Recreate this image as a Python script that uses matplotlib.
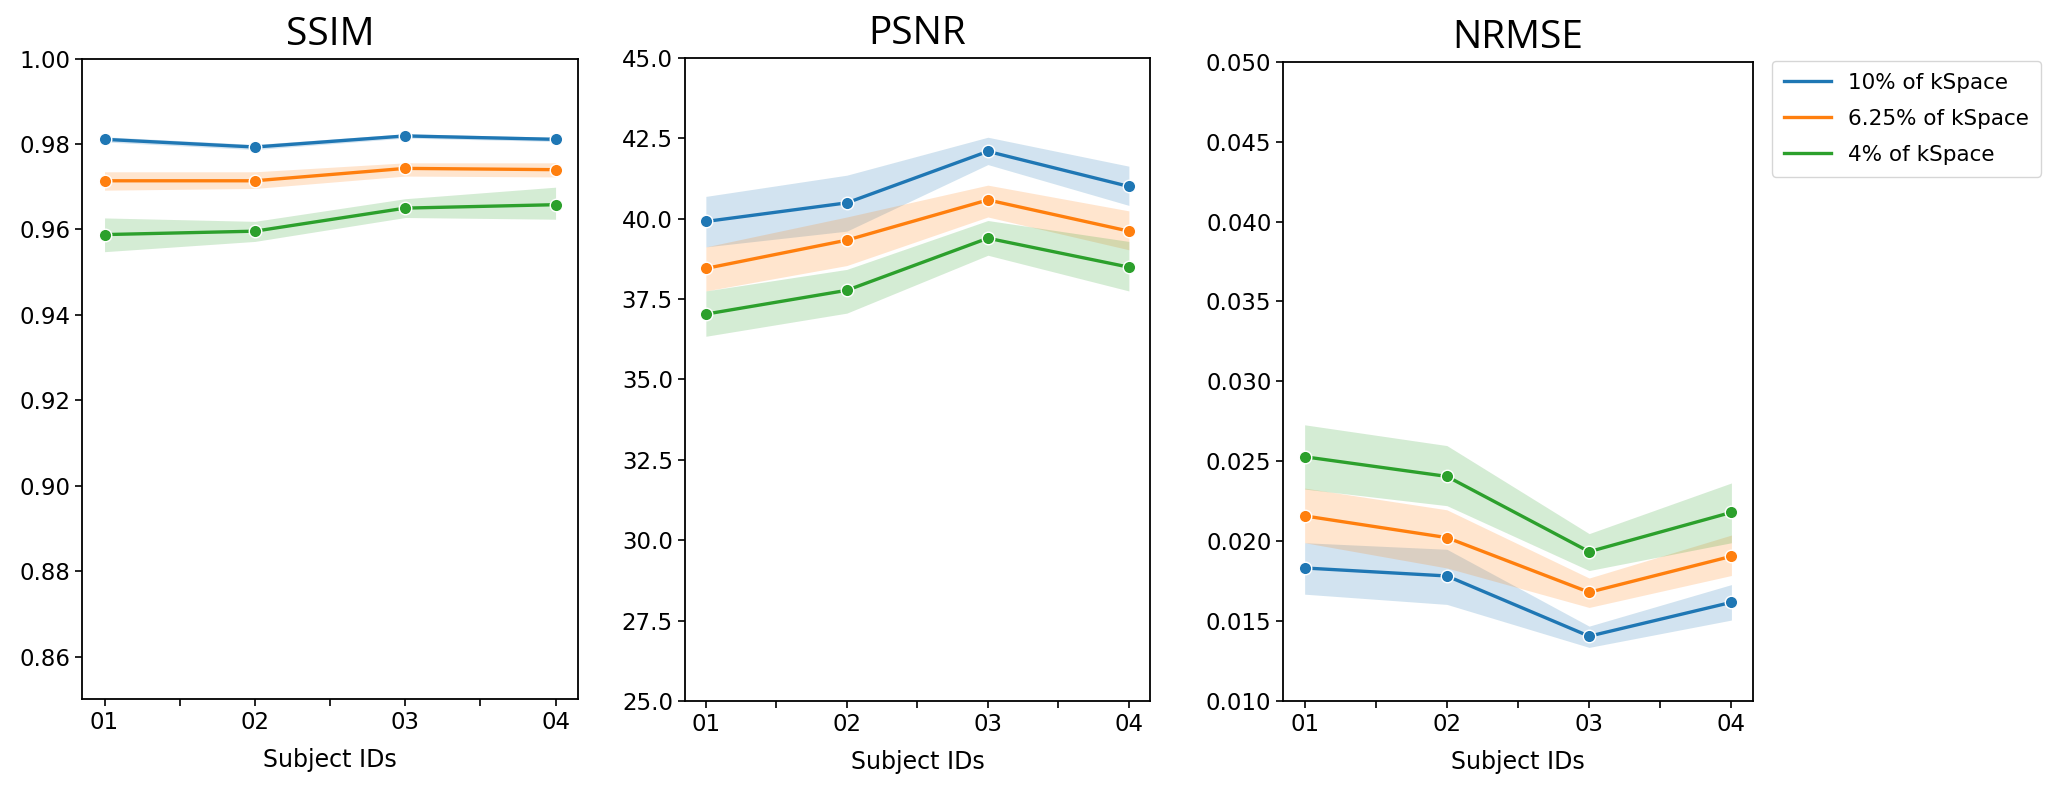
import numpy as np
import matplotlib
matplotlib.use("Agg")
import matplotlib.pyplot as plt

subjects = ["01", "02", "03", "04"]
series_names = ["10% of kSpace", "6.25% of kSpace", "4% of kSpace"]
colors = ["#1f77b4", "#ff7f0e", "#2ca02c"]

# SSIM: mean, lower, upper per series
ssim_mean = [[0.9811, 0.9793, 0.9819, 0.9811],
             [0.9714, 0.9714, 0.9743, 0.9740],
             [0.9588, 0.9596, 0.9650, 0.9658]]
ssim_low = [[0.9805, 0.9787, 0.9814, 0.9806],
            [0.9692, 0.9696, 0.9725, 0.9723],
            [0.9548, 0.9572, 0.9628, 0.9624]]
ssim_high = [[0.9817, 0.9799, 0.9824, 0.9816],
             [0.9735, 0.9735, 0.9756, 0.9756],
             [0.9627, 0.9619, 0.9672, 0.9699]]

# PSNR
psnr_mean = [[39.91, 40.49, 42.09, 41.00],
             [38.45, 39.33, 40.58, 39.61],
             [37.03, 37.77, 39.39, 38.49]]
psnr_low = [[39.12, 39.61, 41.68, 40.41],
            [37.75, 38.54, 40.05, 39.03],
            [36.34, 37.06, 38.86, 37.75]]
psnr_high = [[40.69, 41.35, 42.53, 41.63],
             [39.12, 40.05, 41.04, 40.24],
             [37.75, 38.42, 39.94, 39.29]]

# NRMSE
nrmse_mean = [[0.01832, 0.01782, 0.01405, 0.01617],
              [0.02158, 0.02022, 0.01680, 0.01905],
              [0.02528, 0.02405, 0.01934, 0.02180]]
nrmse_low = [[0.01668, 0.01604, 0.01335, 0.01506],
             [0.01990, 0.01832, 0.01585, 0.01785],
             [0.02326, 0.02222, 0.01816, 0.01990]]
nrmse_high = [[0.01990, 0.01949, 0.01468, 0.01728],
              [0.02332, 0.02196, 0.01769, 0.02038],
              [0.02728, 0.02598, 0.02047, 0.02364]]

panels = [
    ("SSIM", ssim_mean, ssim_low, ssim_high, (0.85, 1.00), np.arange(0.86, 1.001, 0.02), "%.2f",
     [0.040, 0.117, 0.242, 0.809]),
    ("PSNR", psnr_mean, psnr_low, psnr_high, (25.0, 45.0), np.arange(25.0, 45.01, 2.5), "%.1f",
     [0.334, 0.115, 0.227, 0.812]),
    ("NRMSE", nrmse_mean, nrmse_low, nrmse_high, (0.010, 0.050), np.arange(0.010, 0.0501, 0.005), "%.3f",
     [0.626, 0.115, 0.229, 0.807]),
]

fig = plt.figure(figsize=(20.5, 7.92), dpi=100)
x = np.arange(len(subjects))

for title, mean, low, high, ylim, yticks, fmt, pos in panels:
    ax = fig.add_axes(pos)
    for i in range(len(series_names)):
        ax.fill_between(x, low[i], high[i], color=colors[i], alpha=0.2, linewidth=0)
        ax.plot(x, mean[i], color=colors[i], linewidth=2.4, marker="o",
                markersize=9, markeredgecolor="white", markeredgewidth=1.0,
                label=series_names[i])
    ax.set_ylim(*ylim)
    ax.set_yticks(yticks)
    ax.set_yticklabels([fmt % v for v in yticks])
    ax.set_xticks(np.arange(0, 3.01, 0.5))
    ax.set_xticklabels(["01", "", "02", "", "03", "", "04"])
    ax.tick_params(labelsize=16.5, length=5, width=1.2)
    for s in ax.spines.values():
        s.set_linewidth(1.3)
    ax.set_xlabel("Subject IDs", fontsize=17, labelpad=10)
    ax.set_title(title, fontsize=28, family="Open Sans", pad=10)

leg_lines = [plt.Line2D([], [], color=c, linewidth=2.4) for c in colors]
fig.legend(leg_lines, series_names, loc="upper left", bbox_to_anchor=(0.859, 0.937),
           fontsize=15.5, frameon=True, handlelength=2.2, labelspacing=0.75,
           borderpad=0.55)

fig.savefig("out.png", dpi=100)
